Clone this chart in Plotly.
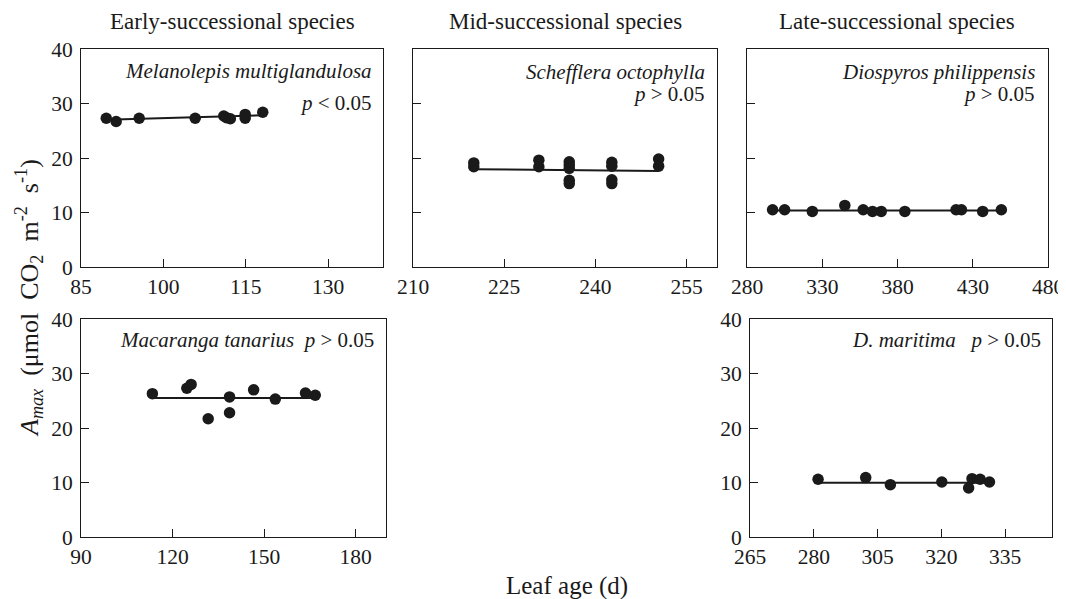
import numpy as np
import plotly.graph_objects as go

# ---------------- data ----------------
# Early-successional: Melanolepis multiglandulosa
mel_age = [89.6, 91.4, 95.6, 105.8, 111.0, 111.5, 112.2, 114.9, 114.9, 118.1]
mel_amax = [27.3, 26.7, 27.3, 27.3, 27.7, 27.4, 27.2, 28.0, 27.3, 28.4]
mel_fit_x = [89.6, 118.1]
mel_fit_y = [27.0, 27.85]

# Mid-successional: Schefflera octophylla
sch_age = [220.0, 220.0, 230.7, 230.7, 235.7, 235.7, 235.7, 235.7, 235.7,
           242.7, 242.7, 242.7, 242.7, 250.4, 250.4]
sch_amax = [19.1, 18.4, 19.6, 18.4, 19.3, 18.7, 18.1, 15.9, 15.3,
            19.2, 18.5, 16.0, 15.3, 19.8, 18.5]
sch_fit_x = [220.0, 250.4]
sch_fit_y = [17.95, 17.6]

# Late-successional: Diospyros philippensis
dio_age = [297, 305, 323.4, 345.0, 357.2, 363.4, 369.2, 384.9, 418.9, 422.5, 436.6, 449.0]
dio_amax = [10.5, 10.5, 10.2, 11.3, 10.5, 10.2, 10.2, 10.2, 10.5, 10.5, 10.2, 10.5]
dio_fit_x = [297, 449]
dio_fit_y = [10.35, 10.35]

# Early-successional: Macaranga tanarius
mac_age = [113.4, 124.7, 126.1, 131.7, 138.7, 138.7, 146.6, 153.7, 163.6, 166.8]
mac_amax = [26.3, 27.3, 28.0, 21.7, 25.7, 22.8, 27.0, 25.3, 26.4, 26.0]
mac_fit_x = [113.4, 166.8]
mac_fit_y = [25.5, 25.5]

# Late-successional: D. maritima
dma_age = [281.0, 292.2, 298.0, 310.1, 316.4, 317.2, 319.1, 321.3]
dma_amax = [10.6, 10.9, 9.6, 10.1, 9.0, 10.7, 10.6, 10.1]
dma_fit_x = [281.0, 319.1]
dma_fit_y = [9.95, 9.95]
dma_tickvals = [265, 280, 295, 310, 325]
dma_ticktext = ["265", "280", "305", "320", "335"]

y_ticks = [0, 10, 20, 30, 40]

col_titles = ["Early-successional species", "Mid-successional species", "Late-successional species"]

# ---------------- figure ----------------
# the page has an 8px body margin; figure is sized so it ends at the window edge
OFF = 8
W, H = 1066 - OFF, 599 - OFF
FONT = "Liberation Serif"
INK = "#1a1a1a"

def px_x(p):
    return (p - OFF) / W

def px_y(p):
    return 1 - (p - OFF) / H

panels = [
    (mel_age, mel_amax, mel_fit_x, mel_fit_y, (81, 383), (49, 267), [85, 140], [85, 100, 115, 130], None, True),
    (sch_age, sch_amax, sch_fit_x, sch_fit_y, (413, 717), (49, 267), [210, 260], [210, 225, 240, 255], None, False),
    (dio_age, dio_amax, dio_fit_x, dio_fit_y, (747, 1048), (49, 267), [280, 480], [280, 330, 380, 430, 480], None, False),
    (mac_age, mac_amax, mac_fit_x, mac_fit_y, (81, 386), (319, 537), [90, 190], [90, 120, 150, 180], None, True),
    (dma_age, dma_amax, dma_fit_x, dma_fit_y, (750, 1052), (319, 537), [265, 336], dma_tickvals, dma_ticktext, True),
]

fig = go.Figure()
layout = dict(
    width=W, height=H, autosize=False,
    margin=dict(l=0, r=0, t=0, b=0, pad=0),
    paper_bgcolor="white", plot_bgcolor="white",
    showlegend=False,
    font=dict(family=FONT, size=20, color=INK),
)

for i, (xs, ys, fx, fy, xd, yd, xr, xt, xtt, showy) in enumerate(panels):
    n = "" if i == 0 else str(i + 1)
    xa, ya = "x" + n, "y" + n
    fig.add_trace(go.Scatter(x=fx, y=fy, mode="lines", xaxis=xa, yaxis=ya,
                             line=dict(color=INK, width=2), hoverinfo="skip"))
    fig.add_trace(go.Scatter(x=xs, y=ys, mode="markers", xaxis=xa, yaxis=ya,
                             marker=dict(color=INK, size=11.5, line=dict(width=0))))
    axis_common = dict(showgrid=False, zeroline=False, showline=True, linecolor=INK,
                       linewidth=1, mirror=True, ticks="inside", ticklen=8,
                       tickcolor=INK, tickwidth=1, automargin=False,
                       tickfont=dict(family=FONT, size=21.5, color=INK))
    xaxis = dict(axis_common, domain=[px_x(xd[0]), px_x(xd[1])], range=xr,
                 tickmode="array", tickvals=xt, anchor=ya)
    if xtt is not None:
        xaxis["ticktext"] = xtt
    yaxis = dict(axis_common, domain=[px_y(yd[1]), px_y(yd[0])], range=[0, 40],
                 tickmode="array", tickvals=y_ticks, anchor=xa,
                 showticklabels=showy, ticklabelstandoff=3)
    layout["xaxis" + n] = xaxis
    layout["yaxis" + n] = yaxis

ann = []
for t, cx in zip(col_titles, [232, 565, 897]):
    ann.append(dict(text=t, x=px_x(cx), y=px_y(22), xref="paper", yref="paper",
                    showarrow=False, xanchor="center", yanchor="middle",
                    font=dict(family=FONT, size=23, color=INK)))

def lab(text, xr, yc, size=21):
    ann.append(dict(text=text, x=px_x(xr), y=px_y(yc), xref="paper", yref="paper",
                    showarrow=False, xanchor="right", yanchor="middle",
                    font=dict(family=FONT, size=size, color=INK)))

lab("<i>Melanolepis multiglandulosa</i>", 374, 71)
lab("<i>p</i> &lt; 0.05", 374, 103)
lab("<i>Schefflera octophylla</i>", 707, 72)
lab("<i>p</i> &gt; 0.05", 707, 94)
lab("<i>Diospyros philippensis</i>", 1037, 72)
lab("<i>p</i> &gt; 0.05", 1037, 94)
lab("<i>Macaranga tanarius</i>&nbsp; <i>p</i> &gt; 0.05", 376, 340)
lab("<i>D. maritima</i>&nbsp;&nbsp; <i>p</i> &gt; 0.05", 1043, 340)

ann.append(dict(text="Leaf age (d)", x=px_x(567), y=px_y(586), xref="paper", yref="paper",
                showarrow=False, xanchor="center", yanchor="middle",
                font=dict(family=FONT, size=25, color=INK)))
ann.append(dict(text="<i>A</i><sub><i>max</i></sub>&nbsp; (μmol&nbsp; CO<sub>2</sub>&nbsp; m<sup>-2</sup>&nbsp; s<sup>-1</sup>)",
                x=px_x(29), y=px_y(298), xref="paper", yref="paper", textangle=-90,
                showarrow=False, xanchor="center", yanchor="middle",
                font=dict(family=FONT, size=26, color=INK)))

layout["annotations"] = ann
fig.update_layout(**layout)
fig.write_html("out.html")
